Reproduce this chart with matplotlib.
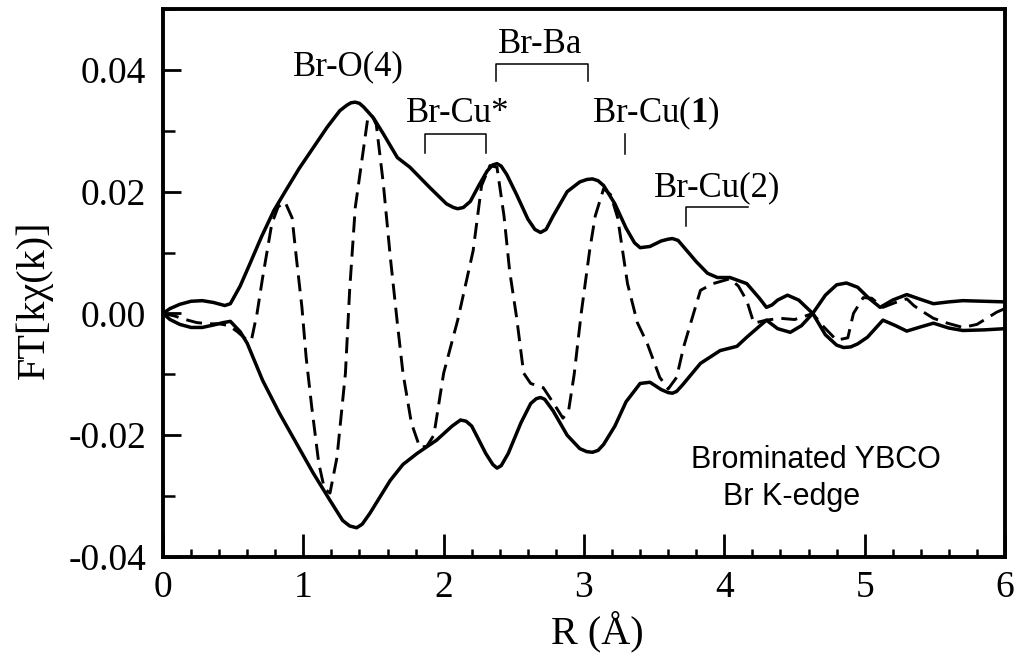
import matplotlib
matplotlib.use("Agg")
import matplotlib.pyplot as plt
from matplotlib.ticker import MultipleLocator, FixedLocator

# ---------------- data ----------------
# solid line A: +|FT| up to the node at R~4.63, then continues below zero
line_a_R = [0.00, 0.05, 0.12, 0.20, 0.28, 0.36, 0.44, 0.48, 0.55, 0.62, 0.70, 0.79, 0.87,
            0.97, 1.07, 1.17, 1.26, 1.31, 1.34, 1.37, 1.40, 1.43, 1.50, 1.57, 1.67, 1.76,
            1.90, 2.02, 2.07, 2.10, 2.14, 2.19, 2.25, 2.31, 2.35, 2.38, 2.41, 2.45, 2.52,
            2.60, 2.65, 2.69, 2.73, 2.78, 2.88, 2.97, 3.02, 3.06, 3.10, 3.14, 3.22, 3.30,
            3.36, 3.40, 3.47, 3.55, 3.60, 3.63, 3.67, 3.70, 3.80, 3.88, 3.95, 4.04, 4.16,
            4.25, 4.30, 4.34, 4.38, 4.45, 4.53, 4.63, 4.72, 4.80, 4.85, 4.90, 4.95, 5.02,
            5.13, 5.22, 5.30, 5.40, 5.49, 5.60, 5.70, 5.85, 6.00]
line_a_val = [0.0000, 0.0008, 0.0015, 0.0020, 0.0021, 0.0018, 0.0013, 0.0016, 0.0045, 0.0082,
              0.0125, 0.0169, 0.0200, 0.0238, 0.0272, 0.0306, 0.0333, 0.0342, 0.0346, 0.0347,
              0.0345, 0.0339, 0.0321, 0.0295, 0.0256, 0.0240, 0.0207, 0.0180, 0.0174, 0.0172,
              0.0174, 0.0184, 0.0210, 0.0234, 0.0244, 0.0246, 0.0242, 0.0228, 0.0195, 0.0155,
              0.0138, 0.0133, 0.0138, 0.0160, 0.0200, 0.0216, 0.0220, 0.0221, 0.0218, 0.0210,
              0.0180, 0.0140, 0.0116, 0.0108, 0.0110, 0.0119, 0.0122, 0.0123, 0.0120, 0.0112,
              0.0085, 0.0066, 0.0059, 0.0059, 0.0049, 0.0025, 0.0010, 0.0014, 0.0022, 0.0030,
              0.0022, 0.0000, -0.0035, -0.0052, -0.0056, -0.0055, -0.0050, -0.0039, -0.0011,
              -0.0020, -0.0029, -0.0022, -0.0016, -0.0024, -0.0028, -0.0027, -0.0025]

# solid line B: -|FT| up to the node, then continues above zero
line_b_R = [0.00, 0.05, 0.12, 0.20, 0.28, 0.36, 0.43, 0.48, 0.55, 0.60, 0.71, 0.83, 0.95,
            1.07, 1.19, 1.28, 1.33, 1.38, 1.42, 1.475, 1.55, 1.62, 1.71, 1.81, 1.95, 2.06,
            2.12, 2.16, 2.20, 2.30, 2.35, 2.38, 2.41, 2.46, 2.55, 2.62, 2.66, 2.69, 2.72,
            2.78, 2.88, 2.97, 3.02, 3.06, 3.10, 3.14, 3.22, 3.30, 3.40, 3.47, 3.55, 3.60,
            3.63, 3.66, 3.70, 3.83, 3.97, 4.09, 4.16, 4.30, 4.38, 4.47, 4.55, 4.63, 4.72,
            4.80, 4.87, 4.95, 5.03, 5.11, 5.20, 5.30, 5.40, 5.49, 5.60, 5.70, 5.85, 6.00]
line_b_val = [0.0000, -0.0010, -0.0018, -0.0023, -0.0023, -0.0019, -0.0015, -0.0013, -0.0030,
              -0.0049, -0.0110, -0.0164, -0.0213, -0.0262, -0.0307, -0.0340, -0.0349, -0.0352,
              -0.0346, -0.0328, -0.0300, -0.0274, -0.0248, -0.0230, -0.0208, -0.0185, -0.0175,
              -0.0177, -0.0185, -0.0230, -0.0248, -0.0254, -0.0250, -0.0230, -0.0180, -0.0148,
              -0.0140, -0.0138, -0.0141, -0.0160, -0.0200, -0.0222, -0.0227, -0.0228, -0.0225,
              -0.0215, -0.0185, -0.0145, -0.0115, -0.0113, -0.0125, -0.0130, -0.0131, -0.0128,
              -0.0118, -0.0082, -0.0061, -0.0054, -0.0039, -0.0011, -0.0025, -0.0031, -0.0020,
              0.0000, 0.0030, 0.0047, 0.0050, 0.0043, 0.0025, 0.0010, 0.0022, 0.0031, 0.0023,
              0.0016, 0.0019, 0.0021, 0.0020, 0.0019]

# dashed line: imaginary part
imag_R = [0.00, 0.08, 0.16, 0.24, 0.32, 0.40, 0.47, 0.53, 0.59, 0.63, 0.67, 0.71, 0.775,
          0.82, 0.87, 0.92, 0.95, 0.99, 1.02, 1.06, 1.11, 1.15, 1.19, 1.24, 1.30, 1.33,
          1.37, 1.42, 1.46, 1.49, 1.52, 1.57, 1.62, 1.67, 1.71, 1.77, 1.83, 1.88, 1.93,
          2.00, 2.10, 2.21, 2.27, 2.33, 2.38, 2.43, 2.47, 2.52, 2.57, 2.62, 2.71, 2.79,
          2.85, 2.89, 2.93, 2.98, 3.04, 3.08, 3.14, 3.19, 3.24, 3.31, 3.38, 3.45, 3.54,
          3.60, 3.66, 3.71, 3.76, 3.83, 3.92, 4.04, 4.10, 4.16, 4.21, 4.30, 4.40, 4.50,
          4.58, 4.63, 4.70, 4.80, 4.88, 4.92, 4.99, 5.05, 5.13, 5.22, 5.30, 5.35, 5.40,
          5.49, 5.59, 5.70, 5.80, 5.87, 5.94, 6.00]
imag_val = [0.0000, -0.0004, -0.0010, -0.0015, -0.0017, -0.0017, -0.0020, -0.0030, -0.0042,
            -0.0044, 0.0000, 0.0059, 0.0147, 0.0175, 0.0183, 0.0157, 0.0092, 0.0010, -0.0072,
            -0.0154, -0.0246, -0.0288, -0.0295, -0.0236, -0.0098, 0.0038, 0.0174, 0.0256,
            0.0322, 0.0325, 0.0310, 0.0213, 0.0092, -0.0016, -0.0098, -0.0180, -0.0220,
            -0.0218, -0.0200, -0.0098, -0.0011, 0.0103, 0.0210, 0.0243, 0.0240, 0.0160,
            0.0070, -0.0007, -0.0098, -0.0115, -0.0122, -0.0150, -0.0172, -0.0160, -0.0100,
            0.0000, 0.0103, 0.0160, 0.0205, 0.0195, 0.0157, 0.0049, -0.0015, -0.0049,
            -0.0105, -0.0124, -0.0105, -0.0055, -0.0016, 0.0038, 0.0049, 0.0057, 0.0045,
            0.0021, -0.0016, -0.0011, -0.0008, -0.0010, -0.0004, 0.0000, -0.0020, -0.0044,
            -0.0040, 0.0000, 0.0026, 0.0025, 0.0010, 0.0018, 0.0024, 0.0013, 0.0005, -0.0008,
            -0.0016, -0.0023, -0.0018, -0.0008, 0.0002, 0.0008]

x_ticks = [0, 1, 2, 3, 4, 5, 6]
x_ticklabels = ["0", "1", "2", "3", "4", "5", "6"]
y_ticks = [-0.04, -0.02, 0.00, 0.02, 0.04]
y_ticklabels = ["-0.04", "-0.02", "0.00", "0.02", "0.04"]

# annotation labels: (text, R, value)
peak_labels = ["Br-O(4)", "Br-Ba", "Br-Cu*", r"Br-Cu($\mathbf{1}$)", "Br-Cu(2)"]
peak_label_R = [1.32, 2.69, 2.10, 3.51, 3.95]
peak_label_val = [0.0405, 0.0441, 0.0328, 0.0328, 0.0207]

# ---------------- figure ----------------
plt.rcParams["font.family"] = ["Liberation Serif", "DejaVu Serif"]
plt.rcParams["mathtext.fontset"] = "custom"
plt.rcParams["mathtext.rm"] = "Liberation Serif"
plt.rcParams["mathtext.bf"] = "Liberation Serif:bold"

fig = plt.figure(figsize=(10.16, 6.59), dpi=100)
ax = fig.add_axes([163 / 1016, 1 - 557 / 659, (1005 - 163) / 1016, (557 - 9) / 659])

ax.plot(line_a_R, line_a_val, color="black", lw=2.5, solid_joinstyle="round")
ax.plot(line_b_R, line_b_val, color="black", lw=2.5, solid_joinstyle="round")
ax.plot(imag_R, imag_val, color="black", lw=2.1, dashes=(5.5, 2.8))

ax.set_xlim(0, 6)
ax.set_ylim(-0.04, 0.05)

for s in ax.spines.values():
    s.set_linewidth(2.8)

ax.xaxis.set_major_locator(FixedLocator(x_ticks))
ax.set_xticklabels(x_ticklabels)
ax.xaxis.set_minor_locator(MultipleLocator(0.2))
ax.yaxis.set_major_locator(FixedLocator(y_ticks))
ax.set_yticklabels(y_ticklabels)
ax.yaxis.set_minor_locator(MultipleLocator(0.01))

ax.tick_params(axis="x", which="major", direction="in", length=16.5, width=2.0,
               labelsize=27, pad=10, top=False)
ax.tick_params(axis="x", which="minor", direction="in", length=6, width=1.8, top=False)
ax.tick_params(axis="y", which="major", direction="in", length=13, width=2.0,
               labelsize=27, pad=12, right=False)
ax.tick_params(axis="y", which="minor", direction="in", length=8.5, width=1.8, right=False)

fig.text(34 / 1016, 1 - 300 / 659, "FT[kχ(k)]", rotation=90, ha="center", va="center",
         fontsize=29)
fig.text(597 / 1016, 1 - 632 / 659, "R (Å)", ha="center", va="center", fontsize=29)

for t, r, v in zip(peak_labels, peak_label_R, peak_label_val):
    ax.text(r, v, t, ha="center", va="center", fontsize=25)

# brackets under the labels
bk = dict(color="black", lw=1.1)
ax.plot([2.37, 2.37, 3.03, 3.03], [0.0382, 0.0410, 0.0410, 0.0382], **bk)   # Br-Ba
ax.plot([1.87, 1.87, 2.30, 2.30], [0.0264, 0.0295, 0.0295, 0.0264], **bk)   # Br-Cu*
ax.plot([3.29, 3.29], [0.0262, 0.0295], **bk)                               # Br-Cu(1)
ax.plot([3.73, 3.73, 4.17], [0.0144, 0.0174, 0.0174], **bk)                 # Br-Cu(2)

ax.text(4.65, -0.0241, "Brominated YBCO", ha="center", va="center", fontsize=22,
        family=["Liberation Sans", "DejaVu Sans"])
ax.text(4.48, -0.0302, "Br K-edge", ha="center", va="center", fontsize=22,
        family=["Liberation Sans", "DejaVu Sans"])

fig.savefig("out.png", dpi=100)
